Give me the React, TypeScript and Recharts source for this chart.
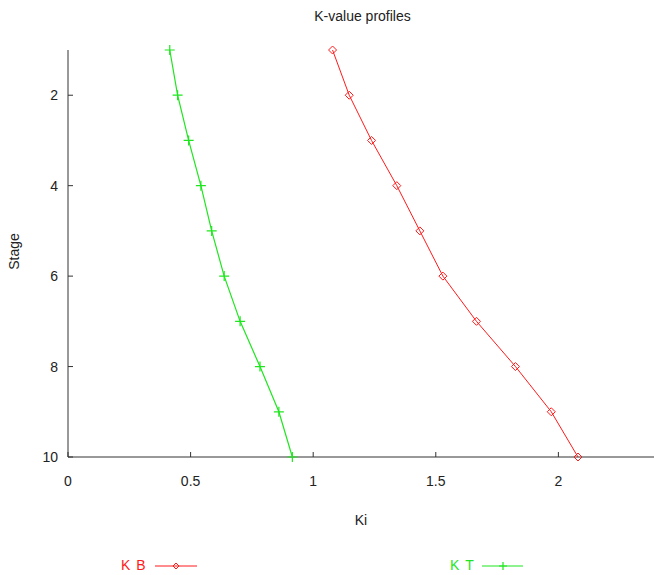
import { ScatterChart, Scatter, XAxis, YAxis } from "recharts";

const stages = [1, 2, 3, 4, 5, 6, 7, 8, 9, 10];
const kbValues = [1.079, 1.147, 1.238, 1.341, 1.435, 1.529, 1.666, 1.825, 1.971, 2.08];
const ktValues = [0.415, 0.447, 0.492, 0.542, 0.586, 0.637, 0.702, 0.783, 0.86, 0.915];
const kiTicks = [0, 0.5, 1, 1.5, 2];
const stageTicks = [2, 4, 6, 8, 10];

const RED = "#ff1a1a";
const GREEN = "#1ee61e";
const AXIS = "#333";
const TEXT = "#222";
const FONT = '"Liberation Sans", Arial, sans-serif';

const kbData = stages.map((s, i) => ({ stage: s, ki: kbValues[i] }));
const ktData = stages.map((s, i) => ({ stage: s, ki: ktValues[i] }));

// marcador rombo hueco (estilo gnuplot)
function Diamond(props: any) {
  const { cx, cy, r = 4 } = props;
  return (
    <path
      d={`M${cx},${cy - r}L${cx + r},${cy}L${cx},${cy + r}L${cx - r},${cy}Z`}
      fill="none"
      stroke={RED}
      strokeWidth={1}
    />
  );
}

// marcador "+"
function Plus(props: any) {
  const { cx, cy, r = 5 } = props;
  return (
    <path
      d={`M${cx - r},${cy}H${cx + r}M${cx},${cy - r}V${cy + r}`}
      stroke={GREEN}
      strokeWidth={1.2}
    />
  );
}

// ticks hacia adentro, como gnuplot
const BOTTOM_MARGIN = 19;
function BottomTick(props: any) {
  const { x, y, payload } = props;
  return (
    <g>
      <line x1={x} x2={x} y1={y - BOTTOM_MARGIN} y2={y - BOTTOM_MARGIN - 5} stroke={AXIS} />
      <text x={x} y={y} dy="0.71em" textAnchor="middle" fontSize={14} fill={TEXT} fontFamily={FONT}>
        {payload.value}
      </text>
    </g>
  );
}

function TopTick(props: any) {
  const { x, y } = props;
  return <line x1={x} x2={x} y1={y} y2={y + 5} stroke={AXIS} />;
}

const LEFT_MARGIN = 10;
function LeftTick(props: any) {
  const { x, y, payload } = props;
  return (
    <g>
      <line x1={x + LEFT_MARGIN} x2={x + LEFT_MARGIN + 5} y1={y} y2={y} stroke={AXIS} />
      <text x={x} y={y} textAnchor="end" dominantBaseline="central" fontSize={14} fill={TEXT} fontFamily={FONT}>
        {payload.value}
      </text>
    </g>
  );
}

function StageLabel(props: any) {
  const vb = props.viewBox;
  const x = 14;
  const y = vb.y + vb.height / 2 - 2;
  return (
    <text
      x={x}
      y={y}
      transform={`rotate(-90, ${x}, ${y})`}
      textAnchor="middle"
      dominantBaseline="central"
      fontSize={14}
      fill={TEXT}
      fontFamily={FONT}
    >
      Stage
    </text>
  );
}

export default function App() {
  const legendText = { fontSize: 14, letterSpacing: 6 };
  return (
    <div
      style={{
        position: "absolute",
        left: 0,
        top: 0,
        width: 654,
        height: 575,
        background: "#fff",
        fontFamily: FONT,
      }}
    >
      <div
        style={{
          position: "absolute",
          top: 7,
          left: 0,
          width: 725,
          textAlign: "center",
          fontSize: 14,
          lineHeight: "18px",
          color: TEXT,
        }}
      >
        K-value profiles
      </div>

      <ScatterChart
        width={654}
        height={575}
        margin={{ top: 50, right: 0, bottom: 52, left: 0 }}
      >
        <XAxis
          xAxisId="t"
          orientation="top"
          type="number"
          dataKey="ki"
          domain={[0, 2.39]}
          ticks={kiTicks}
          height={0}
          tickSize={0}
          tickMargin={0}
          tickLine={false}
          tick={<TopTick />}
          axisLine={{ stroke: "#555" }}
        />
        <XAxis
          xAxisId="b"
          type="number"
          dataKey="ki"
          domain={[0, 2.39]}
          ticks={kiTicks}
          height={66}
          tickSize={0}
          tickMargin={BOTTOM_MARGIN}
          tickLine={false}
          tick={<BottomTick />}
          axisLine={{ stroke: AXIS }}
          label={{
            value: "Ki",
            position: "insideBottom",
            offset: -2,
            fontSize: 14,
            fill: TEXT,
            fontFamily: FONT,
          }}
        />
        <YAxis
          type="number"
          dataKey="stage"
          domain={[1, 10]}
          ticks={stageTicks}
          reversed
          width={68}
          tickSize={0}
          tickMargin={LEFT_MARGIN}
          tickLine={false}
          tick={<LeftTick />}
          axisLine={{ stroke: AXIS }}
          label={<StageLabel />}
        />
        <Scatter
          name="KB"
          xAxisId="b"
          data={kbData}
          fill={RED}
          line={{ stroke: RED, strokeWidth: 1 }}
          lineType="joint"
          shape={<Diamond />}
          isAnimationActive={false}
        />
        <Scatter
          name="KT"
          xAxisId="b"
          data={ktData}
          fill={GREEN}
          line={{ stroke: GREEN, strokeWidth: 1.2 }}
          lineType="joint"
          shape={<Plus />}
          isAnimationActive={false}
        />
      </ScatterChart>

      {/* leyenda abajo */}
      <div style={{ position: "absolute", left: 121, top: 556, height: 18, lineHeight: "18px", color: RED, ...legendText }}>
        KB
      </div>
      <svg style={{ position: "absolute", left: 153, top: 559 }} width={46} height={14}>
        <line x1={2} y1={7} x2={44} y2={7} stroke={RED} strokeWidth={1} />
        <Diamond cx={23} cy={7} r={3} />
      </svg>
      <div style={{ position: "absolute", left: 450, top: 556, height: 18, lineHeight: "18px", color: GREEN, ...legendText }}>
        KT
      </div>
      <svg style={{ position: "absolute", left: 480, top: 559 }} width={46} height={14}>
        <line x1={2} y1={7} x2={43} y2={7} stroke={GREEN} strokeWidth={1.2} />
        <Plus cx={23} cy={7} r={4} />
      </svg>
    </div>
  );
}
